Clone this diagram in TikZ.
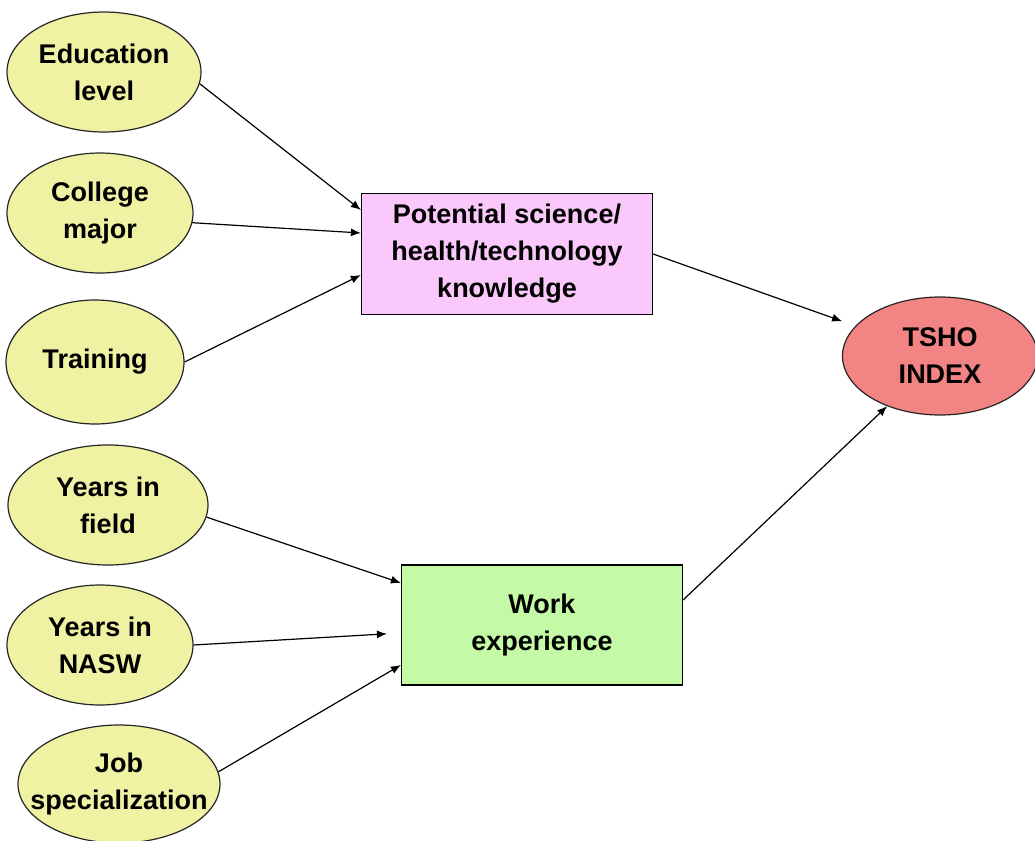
\documentclass[tikz,border=0pt]{standalone}
\usepackage{fontspec}
\setmainfont{Liberation Sans}
\usepackage{tikz}
\usetikzlibrary{positioning,shapes.geometric,arrows.meta}
\definecolor{factorfill}{RGB}{238,242,162}
\definecolor{knowfill}{RGB}{250,200,250}
\definecolor{workfill}{RGB}{196,250,166}
\definecolor{indexfill}{RGB}{243,132,132}

\begin{document}
\begin{tikzpicture}[x=0.5pt,y=-0.5pt]
\tikzset{basic/.style={draw,line width=0.6pt,align=center,font=\fontsize{13.5}{18.5}\selectfont\bfseries}}
\tikzset{factor/.style={basic,ellipse,draw=black!85,fill=factorfill,inner sep=-10pt,minimum height=60pt}}
\tikzset{outcome/.style={basic,ellipse,draw=black!85,fill=indexfill,inner sep=-10pt,minimum width=97.5pt,minimum height=59pt}}
\tikzset{block/.style={basic,rectangle,inner sep=2pt}}
\tikzset{link/.style={draw,line width=0.6pt,-{Latex[length=5pt,width=4pt]}}}
	\useasboundingbox (0,0) rectangle (1035,841);
	\node[factor,minimum width=97pt] (edu) at (104,72) {Education\\level};
	\node[factor,minimum width=93pt] (major) at (100,213) {College\\major};
	\node[factor,minimum width=89pt,minimum height=62pt] (train) at (95,362) {Training};
	\node[factor,minimum width=100pt] (field) at (108,505) {Years in\\field};
	\node[factor,minimum width=93pt] (nasw) at (100,645) {Years in\\NASW};
	\node[factor,minimum width=101pt,minimum height=59pt] (job) at (119,784) {Job\\specialization};
	\node[block,fill=knowfill,minimum width=145.5pt,minimum height=60.5pt] (know) at (507,254) {Potential science/\\health/technology\\knowledge};
	\node[block,fill=workfill,minimum width=140.5pt,minimum height=60pt] (work) at (542,625) {Work\\experience};
	\node[outcome] (tsho) at (940,356) {TSHO\\INDEX};
		\path[link] (edu.-7) -- ([yshift=22pt]know.west);
		\path[link] (major.-6) -- ([yshift=10.5pt]know.west);
		\path[link] (train.east) -- ([yshift=-10.5pt]know.west);
		\path[link] (field.-7) -- ([yshift=21pt]work.west);
		\path[link,shorten >=7pt] (nasw.east) -- ([yshift=-4pt]work.west);
		\path[link] (job.7) -- ([yshift=-20pt]work.west);
		\path[link,shorten >=7pt] (know.east) -- (tsho);
		\path[link] ([yshift=12.5pt]work.east) -- (tsho);
\end{tikzpicture}
\end{document}
